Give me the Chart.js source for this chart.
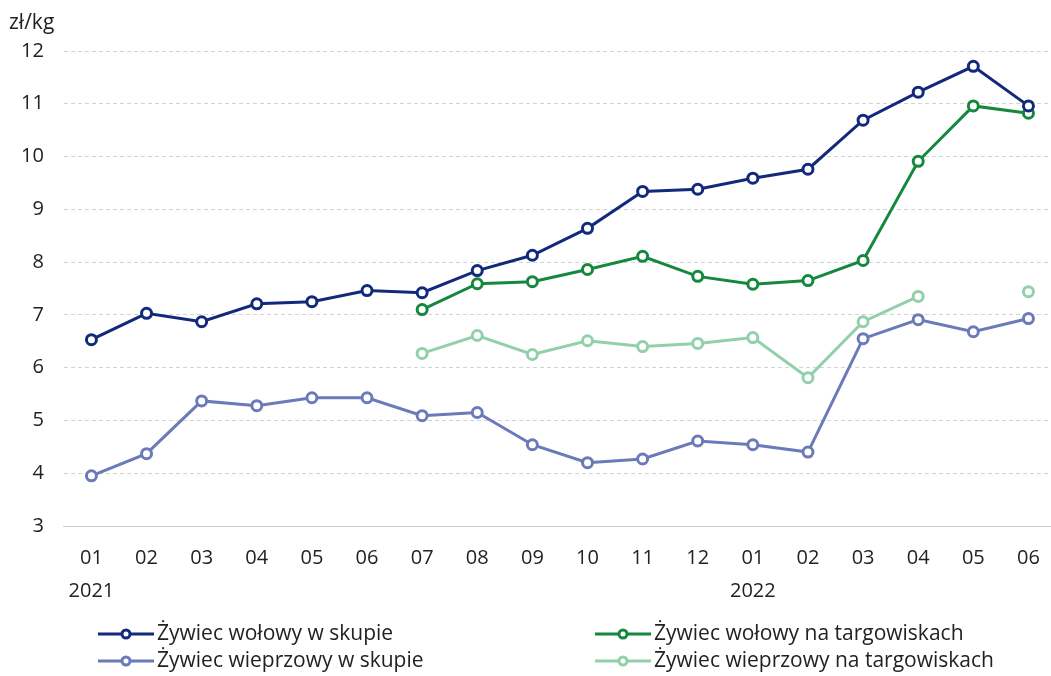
<!DOCTYPE html>
<html>
<head>
<meta charset="utf-8">
<script src="https://cdn.jsdelivr.net/npm/chart.js@4"></script>
<style>
  html, body { margin: 0; padding: 0; background: #fff; overflow: hidden; }
  canvas { display: block; }
</style>
</head>
<body>
<canvas id="chart" width="1064" height="676"></canvas>
<script>
// dane - ceny żywca (zł/kg)
const months = [['01', '2021'], '02', '03', '04', '05', '06', '07', '08', '09', '10', '11', '12',
    ['01', '2022'], '02', '03', '04', '05', '06'];

const wolowySkup = [6.53, 7.03, 6.87, 7.21, 7.25, 7.46, 7.42, 7.84, 8.13, 8.64, 9.34, 9.38,
    9.59, 9.76, 10.69, 11.22, 11.71, 10.96];
const wolowyTarg = [null, null, null, null, null, null, 7.10, 7.59, 7.63, 7.86, 8.11, 7.73,
    7.58, 7.65, 8.03, 9.91, 10.96, 10.82];
const wieprzowySkup = [3.95, 4.37, 5.37, 5.28, 5.43, 5.43, 5.09, 5.15, 4.54, 4.20, 4.27, 4.61,
    4.54, 4.40, 6.55, 6.91, 6.68, 6.93];
const wieprzowyTarg = [null, null, null, null, null, null, 6.27, 6.61, 6.25, 6.51, 6.40, 6.46,
    6.57, 5.81, 6.87, 7.35, null, 7.44];

const yTicks = [3, 4, 5, 6, 7, 8, 9, 10, 11, 12];

const fontFamily = "'Open Sans', sans-serif";
const textColor = '#222';

function serie(label, data, color) {
    return {
        label: label,
        data: data,
        borderColor: color,
        backgroundColor: '#fff',
        borderWidth: 3,
        pointRadius: 5,
        pointBorderWidth: 3,
        pointBackgroundColor: '#fff',
        pointBorderColor: color,
        spanGaps: false,
        tension: 0
    };
}

// legenda w dwóch kolumnach + jednostka osi
const extras = {
    id: 'extras',
    afterDraw(chart) {
        const ctx = chart.ctx;
        ctx.save();
        ctx.fillStyle = textColor;
        ctx.font = '21px ' + fontFamily;
        ctx.textBaseline = 'middle';
        ctx.textAlign = 'left';
        ctx.fillText('zł/kg', 9, 23);

        const slots = [[98, 634], [595, 634], [98, 661], [595, 661]];
        chart.data.datasets.forEach((ds, k) => {
            const [x, y] = slots[k];
            ctx.strokeStyle = ds.borderColor;
            ctx.lineWidth = 3;
            ctx.beginPath();
            ctx.moveTo(x, y);
            ctx.lineTo(x + 56, y);
            ctx.stroke();
            ctx.beginPath();
            ctx.arc(x + 28, y, 4, 0, Math.PI * 2);
            ctx.fillStyle = '#fff';
            ctx.fill();
            ctx.stroke();
            ctx.fillStyle = textColor;
            ctx.fillText(ds.label, x + 59, y);
        });
        ctx.restore();
    }
};

new Chart(document.getElementById('chart'), {
    type: 'line',
    data: {
        labels: months,
        datasets: [
            serie('Żywiec wołowy w skupie', wolowySkup, '#132a7c'),
            serie('Żywiec wołowy na targowiskach', wolowyTarg, '#15883e'),
            serie('Żywiec wieprzowy w skupie', wieprzowySkup, '#6b7ab8'),
            serie('Żywiec wieprzowy na targowiskach', wieprzowyTarg, '#92d0aa')
        ]
    },
    options: {
        responsive: false,
        animation: false,
        layout: { padding: { left: 1, top: 51, right: 4, bottom: 52 } },
        plugins: {
            legend: { display: false },
            tooltip: { enabled: false }
        },
        scales: {
            x: {
                offset: true,
                grid: { display: false, drawTicks: false },
                border: { display: true, color: '#cfcfcf', width: 1 },
                ticks: {
                    color: textColor,
                    font: { family: fontFamily, size: 20, lineHeight: 1.65 },
                    padding: 16,
                    maxRotation: 0,
                    autoSkip: false
                }
            },
            y: {
                min: 3,
                max: 12,
                afterBuildTicks(scale) {
                    scale.ticks = yTicks.map(v => ({ value: v }));
                },
                grid: {
                    color: '#d4d4d4',
                    lineWidth: 1,
                    drawTicks: false
                },
                border: { display: false, dash: [4, 3] },
                ticks: {
                    color: textColor,
                    font: { family: fontFamily, size: 20 },
                    padding: 20
                }
            }
        }
    },
    plugins: [extras]
});
</script>
</body>
</html>
